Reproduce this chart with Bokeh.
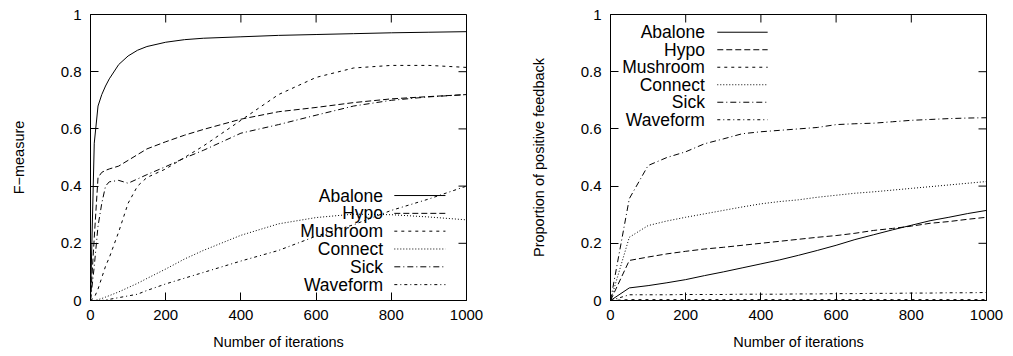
import math
from bokeh.plotting import figure
from bokeh.layouts import row
from bokeh.models import Range1d, FixedTicker
from bokeh.core.properties import value
from bokeh.embed import file_html
from bokeh.resources import INLINE

# ---------------- data ----------------
series_names = ["Abalone", "Hypo", "Mushroom", "Connect", "Sick", "Waveform"]

# Left panel: F-measure vs iterations
x_left = [0, 10, 20, 30, 40, 50, 75, 100, 125, 150, 200, 250, 300, 400, 500, 600, 700, 800, 900, 1000]
f_abalone = [0, 0.55, 0.68, 0.72, 0.75, 0.775, 0.825, 0.855, 0.875, 0.888, 0.903, 0.912, 0.917, 0.922, 0.927, 0.930, 0.933, 0.936, 0.938, 0.940]
f_hypo = [0, 0.22, 0.43, 0.448, 0.455, 0.46, 0.47, 0.49, 0.51, 0.53, 0.555, 0.578, 0.598, 0.634, 0.66, 0.675, 0.692, 0.705, 0.713, 0.72]
f_mushroom = [0, 0.01, 0.04, 0.08, 0.12, 0.15, 0.24, 0.34, 0.40, 0.43, 0.46, 0.50, 0.54, 0.63, 0.72, 0.78, 0.813, 0.822, 0.822, 0.815]
f_connect = [0, 0.0, 0.003, 0.007, 0.012, 0.017, 0.03, 0.045, 0.06, 0.077, 0.11, 0.145, 0.175, 0.228, 0.268, 0.29, 0.302, 0.30, 0.292, 0.282]
f_sick = [0, 0.12, 0.26, 0.34, 0.40, 0.415, 0.42, 0.41, 0.425, 0.44, 0.468, 0.498, 0.525, 0.585, 0.615, 0.648, 0.68, 0.70, 0.712, 0.72]
f_waveform = [0, 0, 0, 0, 0.002, 0.004, 0.01, 0.016, 0.022, 0.035, 0.058, 0.078, 0.098, 0.138, 0.175, 0.225, 0.265, 0.315, 0.355, 0.40]

# Right panel: proportion of positive feedback vs iterations
x_right = [0, 50, 100, 150, 200, 250, 300, 350, 400, 450, 500, 550, 600, 650, 700, 750, 800, 850, 900, 950, 1000]
p_abalone = [0, 0.044, 0.052, 0.062, 0.073, 0.087, 0.100, 0.114, 0.128, 0.142, 0.158, 0.175, 0.193, 0.213, 0.230, 0.247, 0.263, 0.279, 0.291, 0.304, 0.315]
p_hypo = [0, 0.14, 0.152, 0.163, 0.172, 0.180, 0.186, 0.193, 0.200, 0.207, 0.214, 0.221, 0.227, 0.235, 0.245, 0.252, 0.260, 0.270, 0.276, 0.284, 0.291]
p_mushroom = [0, 0.003, 0.003, 0.003, 0.003, 0.003, 0.003, 0.003, 0.003, 0.003, 0.003, 0.003, 0.003, 0.003, 0.003, 0.003, 0.003, 0.003, 0.003, 0.003, 0.003]
p_connect = [0, 0.221, 0.262, 0.278, 0.291, 0.303, 0.315, 0.327, 0.338, 0.346, 0.352, 0.361, 0.368, 0.375, 0.380, 0.386, 0.392, 0.398, 0.404, 0.410, 0.416]
p_sick = [0, 0.356, 0.472, 0.500, 0.520, 0.548, 0.565, 0.583, 0.590, 0.595, 0.600, 0.605, 0.615, 0.618, 0.620, 0.625, 0.630, 0.633, 0.636, 0.638, 0.639]
p_waveform = [0, 0.020, 0.020, 0.020, 0.021, 0.021, 0.021, 0.022, 0.022, 0.022, 0.023, 0.023, 0.024, 0.024, 0.025, 0.025, 0.026, 0.026, 0.027, 0.027, 0.028]

x_ticks = [0, 200, 400, 600, 800, 1000]
x_tick_labels = ["0", "200", "400", "600", "800", "1000"]
y_ticks = [0, 0.2, 0.4, 0.6, 0.8, 1]
y_tick_labels = ["0", "0.2", "0.4", "0.6", "0.8", "1"]

# ---------------- style ----------------
FONT = "Liberation Sans"
DASHES = ["solid", "6 3", "3 4", "1 2", "6 3 1 3", "3 3 1 3"]
TICK_LEN = 8


def make_fig(width, border_left, border_right, ylabel):
    p = figure(width=width, height=356, output_backend="svg", toolbar_location=None,
               x_range=Range1d(0, 1000), y_range=Range1d(0, 1),
               min_border_left=border_left, min_border_right=border_right,
               min_border_top=14, min_border_bottom=56,
               background_fill_color="white", border_fill_color="white",
               outline_line_color="black", outline_line_width=1)
    p.grid.visible = False
    for ax, ticks, labels in ((p.xaxis[0], x_ticks, x_tick_labels), (p.yaxis[0], y_ticks, y_tick_labels)):
        ax.ticker = FixedTicker(ticks=ticks)
        ax.major_label_overrides = {t: l for t, l in zip(ticks, labels)}
        ax.major_tick_in = TICK_LEN
        ax.major_tick_out = 0
        ax.minor_tick_line_color = None
        ax.axis_line_color = "black"
        ax.major_tick_line_color = "black"
        ax.major_label_text_font = FONT
        ax.major_label_text_font_size = "15px"
        ax.major_label_text_color = "black"
        ax.axis_label_text_font = FONT
        ax.axis_label_text_font_size = "14.5px"
        ax.axis_label_text_font_style = "normal"
        ax.axis_label_text_color = "black"
    p.xaxis.axis_label = "Number of iterations"
    p.xaxis.major_label_standoff = 9
    p.xaxis.axis_label_standoff = 11
    p.yaxis.axis_label = ylabel
    p.yaxis.major_label_standoff = 9
    p.yaxis.axis_label_standoff = 31
    # mirrored inward ticks on the top and right edges
    p.ray(x=x_ticks, y=[p.y_range.end] * len(x_ticks), length=TICK_LEN, length_units="screen",
          angle=-math.pi / 2, line_color="black", line_width=1)
    p.ray(x=[p.x_range.end] * len(y_ticks), y=y_ticks, length=TICK_LEN, length_units="screen",
          angle=math.pi, line_color="black", line_width=1)
    return p


def add_legend(p, x_text, x0, x1, y_top, step, font_size):
    for i, (name, dash) in enumerate(zip(series_names, DASHES)):
        yy = y_top - i * step
        p.text(x=[x_text], y=[yy], text=[name], text_align="right", text_baseline="middle",
               text_font=value(FONT), text_font_size=font_size, text_color="black")
        p.line([x0, x1], [yy, yy], line_color="black", line_width=1, line_dash=dash)


left = make_fig(508, 90, 42, "F\u2212measure")
for ys, dash in zip([f_abalone, f_hypo, f_mushroom, f_connect, f_sick, f_waveform], DASHES):
    left.line(x_left, ys, line_color="black", line_width=1, line_dash=dash)
add_legend(left, 778, 808, 944, 0.367, 0.0623, "17.5px")

right = make_fig(504, 102, 26, "Proportion of positive feedback")
for ys, dash in zip([p_abalone, p_hypo, p_mushroom, p_connect, p_sick, p_waveform], DASHES):
    right.line(x_right, ys, line_color="black", line_width=1, line_dash=dash)
add_legend(right, 251, 284, 418, 0.938, 0.0612, "17.5px")

layout = row(left, right)
open("out.html", "w").write(file_html(layout, INLINE))
